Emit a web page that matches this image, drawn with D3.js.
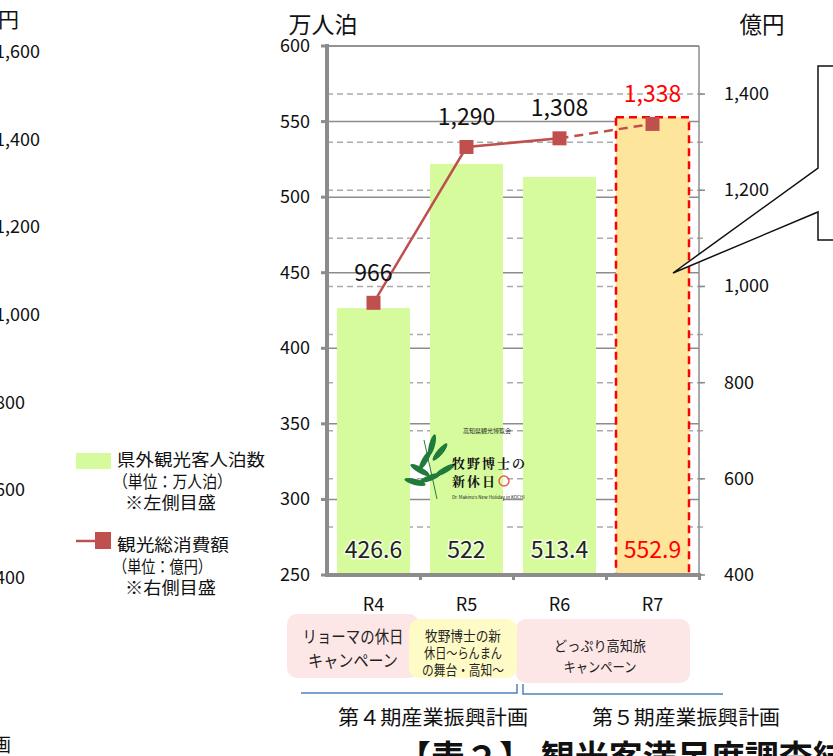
<!DOCTYPE html>
<html><head><meta charset="utf-8">
<script src="https://cdn.jsdelivr.net/npm/d3@7"></script>
<style>
body{margin:0;background:#fff;}
svg{display:block;font-family:"Noto Sans CJK JP","Noto Sans",sans-serif;}
</style></head>
<body><svg id="c" width="833" height="756"></svg>
<script>
const categories = ["R4","R5","R6","R7"];
const stays = [426.6, 522, 513.4, 552.9];        // 万人泊 (left axis)
const spending = [966, 1290, 1308, 1338];        // 億円 (right axis)
const leftTicks = [250,300,350,400,450,500,550,600];
const rightTicks = [400,600,800,1000,1200,1400];
const rightMinor = [500,700,900,1100,1300];
const ghostTicks = [1600,1400,1200,1000,800,600,400];
const campaigns = [
  {lines:["リョーマの休日","キャンペーン"], from:"R4", to:"R4"},
  {lines:["どっぷり高知旅","キャンペーン"], from:"R6", to:"R7"},
  {lines:["牧野博士の新","休日～らんまん","の舞台・高知～"], from:"R5", to:"R5"}
];
const plans = ["第４期産業振興計画","第５期産業振興計画"];

const svg = d3.select("#c");
const L = 327, R = 699, T = 46, B = 575;
const x = d3.scaleBand().domain(categories).range([L,R]).paddingInner(0.215).paddingOuter(0.1075);
const yL = d3.scaleLinear().domain([250,600]).range([B,T]);
const yR = d3.scaleLinear().domain([400,1500]).range([B,T]);
const yG = d3.scaleLinear().domain([400,1600]).range([578,52]);

// ghost axis on the far left (cropped neighbour chart)
svg.append("text").attr("x",19).attr("y",27).attr("text-anchor","end").attr("font-size",21).attr("fill","#111").text("億円");
svg.selectAll(".ghost").data(ghostTicks).enter().append("text")
  .attr("x",-5).attr("y",d=>yG(d)+6).attr("font-size",18).attr("fill","#111")
  .text(d=>d3.format(",")(d));
svg.append("text").attr("x",11).attr("y",752).attr("text-anchor","end").attr("font-size",19).attr("fill","#111").text("第５期産業振興計画");

// dashed grid (right axis minor/major)
svg.selectAll(".dg").data(rightTicks.concat(rightMinor)).enter().append("line")
  .attr("x1",L).attr("x2",R+5).attr("y1",d=>yR(d)).attr("y2",d=>yR(d))
  .attr("stroke","#aaa").attr("stroke-width",1.5).attr("stroke-dasharray","6,4");
// solid grid (left axis)
svg.selectAll(".sg").data(leftTicks.filter(d=>d>250)).enter().append("line")
  .attr("x1",L).attr("x2",R).attr("y1",d=>yL(d)).attr("y2",d=>yL(d))
  .attr("stroke","#8c8c8c").attr("stroke-width",1.5);

// bars
svg.selectAll(".bar").data(stays).enter().append("rect")
  .attr("x",(d,i)=>x(categories[i])).attr("width",x.bandwidth())
  .attr("y",d=>yL(d)).attr("height",d=>B-yL(d))
  .attr("fill",(d,i)=>i===3?"#fee59c":"#d5fb9d");
svg.append("rect").attr("x",x("R7")).attr("width",x.bandwidth())
  .attr("y",yL(stays[3])).attr("height",B-yL(stays[3]))
  .attr("fill","none").attr("stroke","#ff0000").attr("stroke-width",2.5).attr("stroke-dasharray","8,5");

// logo (approximation)
const logo = svg.append("g");
const leaf = [[425,460,-60],[430,478,-20],[420,470,30],[440,452,-50],[445,470,-30],[432,445,-75],[415,482,15]];
logo.append("line").attr("x1",437).attr("y1",499).attr("x2",424).attr("y2",440).attr("stroke","#2d7a3a").attr("stroke-width",1);
logo.selectAll("ellipse").data(leaf).enter().append("ellipse")
  .attr("cx",d=>d[0]).attr("cy",d=>d[1]).attr("rx",11).attr("ry",3)
  .attr("transform",d=>`rotate(${d[2]},${d[0]},${d[1]})`).attr("fill","#1f7a3c");
logo.append("text").attr("x",487).attr("y",433).attr("text-anchor","middle").attr("font-size",6).attr("fill","#222").text("高知県観光博覧会");
logo.append("text").attr("x",452).attr("y",468).attr("font-size",13).attr("font-weight","bold").attr("font-family","Noto Serif CJK JP,serif").attr("fill","#111").attr("letter-spacing",2).text("牧野博士の");
logo.append("text").attr("x",452).attr("y",486).attr("font-size",13).attr("font-weight","bold").attr("font-family","Noto Serif CJK JP,serif").attr("fill","#111").attr("letter-spacing",2).text("新休日");
logo.append("circle").attr("cx",504).attr("cy",481).attr("r",5).attr("fill","none").attr("stroke","#e5604a").attr("stroke-width",1.5);
logo.append("text").attr("x",452).attr("y",499).attr("font-size",4.5).attr("fill","#222").text("Dr. Makino's New Holiday in KOCHI");

// bar value labels
svg.selectAll(".bl").data(stays).enter().append("text")
  .attr("x",(d,i)=>x(categories[i])+x.bandwidth()/2).attr("y",B-17)
  .attr("text-anchor","middle").attr("font-size",23)
  .attr("fill",(d,i)=>i===3?"#ff0000":"#222")
  .attr("stroke",(d,i)=>i===3?"none":"#f4ffe6").attr("stroke-width",3).attr("paint-order","stroke")
  .text(d=>d);

// axes lines
svg.append("line").attr("x1",R).attr("x2",R).attr("y1",T).attr("y2",B).attr("stroke","#8c8c8c").attr("stroke-width",1.5);
svg.append("line").attr("x1",L).attr("x2",R).attr("y1",T).attr("y2",T).attr("stroke","#8c8c8c").attr("stroke-width",1.5);
svg.append("line").attr("x1",L).attr("x2",L).attr("y1",T-2).attr("y2",B+2).attr("stroke","#8c8c8c").attr("stroke-width",4);
svg.append("line").attr("x1",L-2).attr("x2",R+2).attr("y1",B).attr("y2",B).attr("stroke","#8c8c8c").attr("stroke-width",4);
// left ticks
svg.selectAll(".lt").data(leftTicks).enter().append("line")
  .attr("x1",L-6).attr("x2",L).attr("y1",d=>yL(d)).attr("y2",d=>yL(d)).attr("stroke","#8c8c8c").attr("stroke-width",3);
svg.selectAll(".ltl").data(leftTicks).enter().append("text")
  .attr("x",310).attr("y",d=>yL(d)+6).attr("text-anchor","end").attr("font-size",18).attr("fill","#111").text(d=>d);
// right ticks
svg.selectAll(".rt").data(rightTicks).enter().append("line")
  .attr("x1",R).attr("x2",R+6).attr("y1",d=>yR(d)).attr("y2",d=>yR(d)).attr("stroke","#8c8c8c").attr("stroke-width",1.5);
svg.selectAll(".rtl").data(rightTicks).enter().append("text")
  .attr("x",724).attr("y",d=>yR(d)+6).attr("font-size",18).attr("fill","#111").text(d=>d3.format(",")(d));
// bottom ticks at category boundaries
svg.selectAll(".bt").data(categories).enter().append("line")
  .attr("x1",d=>x(d)+x.step()*(1-0.1075)+0.5).attr("x2",d=>x(d)+x.step()*(1-0.1075)+0.5)
  .attr("y1",B).attr("y2",B+5).attr("stroke","#8c8c8c").attr("stroke-width",3);
svg.selectAll(".cl").data(categories).enter().append("text")
  .attr("x",d=>x(d)+x.bandwidth()/2).attr("y",611).attr("text-anchor","middle").attr("font-size",18).attr("fill","#111").text(d=>d);
// axis titles
svg.append("text").attr("x",323).attr("y",33).attr("text-anchor","middle").attr("font-size",23).attr("fill","#111").text("万人泊");
svg.append("text").attr("x",762).attr("y",33).attr("text-anchor","middle").attr("font-size",22.5).attr("fill","#111").text("億円");

// line series
const px = i=>x(categories[i])+x.bandwidth()/2;
const line = d3.line().x(d=>px(d.i)).y(d=>yR(d.v));
const pts = spending.map((v,i)=>({v,i}));
svg.append("path").attr("d",line(pts.slice(0,3))).attr("fill","none").attr("stroke","#c0504d").attr("stroke-width",2.5);
svg.append("path").attr("d",line(pts.slice(2))).attr("fill","none").attr("stroke","#c0504d").attr("stroke-width",2.5).attr("stroke-dasharray","9,6");
svg.selectAll(".mk").data(pts).enter().append("rect")
  .attr("x",d=>px(d.i)-7).attr("y",d=>yR(d.v)-7).attr("width",14).attr("height",14).attr("fill","#c0504d");
svg.selectAll(".ml").data(pts).enter().append("text")
  .attr("x",d=>px(d.i)).attr("y",d=>yR(d.v)-22).attr("text-anchor","middle").attr("font-size",23)
  .attr("fill",d=>d.i===3?"#ff0000":"#111").text(d=>d3.format(",")(d.v));

// callout
svg.append("path").attr("d","M818,66 L840,66 L840,240 L818,240 L818,212 L673,273 L818,168 Z")
  .attr("fill","#fff").attr("stroke","#111").attr("stroke-width",1.5);

// legend
svg.append("rect").attr("x",76).attr("y",453).attr("width",35).attr("height",16).attr("fill","#d5fb9d");
svg.append("line").attr("x1",76).attr("x2",100).attr("y1",541).attr("y2",541).attr("stroke","#c0504d").attr("stroke-width",2.5);
svg.append("rect").attr("x",95).attr("y",532).attr("width",16).attr("height",17).attr("fill","#c0504d");
const legTxt = [["県外観光客人泊数",117,466,148],["（単位：万人泊）",113,488,119],["※左側目盛",125,509,91],
                ["観光総消費額",117,551,112],["（単位：億円）",113,573,99],["※右側目盛",125,594,91]];
svg.selectAll(".lg").data(legTxt).enter().append("text")
  .attr("x",d=>d[1]).attr("y",d=>d[2]).attr("font-size",17).attr("fill","#111")
  .attr("textLength",d=>d[3]).attr("lengthAdjust","spacingAndGlyphs").text(d=>d[0]);

// campaign boxes: [x,y,w,h,fill,fontSize,baselines,widths]
const boxGeom = [
  [287,614,132,64,"#fde6e6",17,[643,667],[101,90]],
  [516,619,174,64,"#fde6e6",14,[651,672],[92,73]],
  [409,619,108,59,"#fefbc6",13.5,[641,658,675],[76,78,82]]];
campaigns.forEach((c,k)=>{
  const g = boxGeom[k];
  svg.append("rect").attr("x",g[0]).attr("y",g[1]).attr("width",g[2]).attr("height",g[3]).attr("rx",10).attr("fill",g[4]);
  const cx = k===1 ? (x(c.from)+x(c.to)+x.bandwidth())/2 - 6 : (k===0 ? 353 : 463);
  c.lines.forEach((t,j)=>{
    svg.append("text").attr("x",cx).attr("y",g[6][j]).attr("text-anchor","middle").attr("font-size",g[5]).attr("fill","#222")
      .attr("textLength",g[7][j]).attr("lengthAdjust","spacingAndGlyphs").text(t);
  });
});
// plan brackets
svg.append("path").attr("d","M301,693 L517,693 L517,684").attr("fill","none").attr("stroke","#4f81bd").attr("stroke-width",1.5);
svg.append("path").attr("d","M523,684 L523,694 L723,694").attr("fill","none").attr("stroke","#4f81bd").attr("stroke-width",1.5);
svg.append("text").attr("x",433).attr("y",725).attr("text-anchor","middle").attr("font-size",20).attr("fill","#111")
  .attr("textLength",190).attr("lengthAdjust","spacingAndGlyphs").text(plans[0]);
svg.append("text").attr("x",686).attr("y",725).attr("text-anchor","middle").attr("font-size",20).attr("fill","#111")
  .attr("textLength",188).attr("lengthAdjust","spacingAndGlyphs").text(plans[1]);
// cropped heading at bottom
svg.append("text").attr("x",397).attr("y",770).attr("font-size",34).attr("font-weight","bold").attr("fill","#111").text("【表２】 観光客満足度調査結果");
</script></body></html>
